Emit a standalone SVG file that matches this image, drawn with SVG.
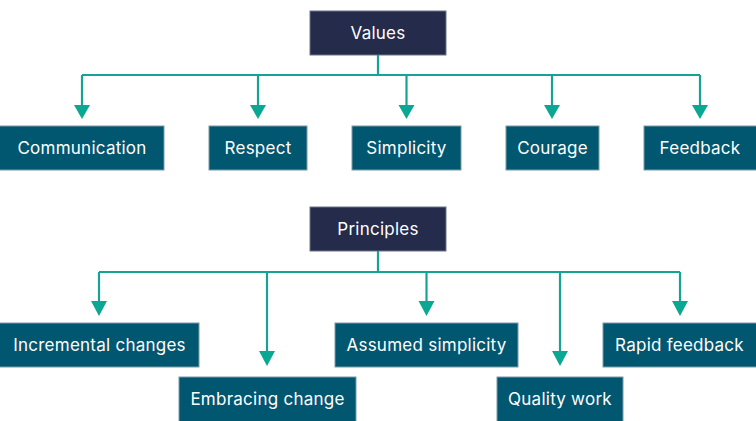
<svg xmlns="http://www.w3.org/2000/svg" width="756" height="421" viewBox="0 0 756 421">
<style>
.root rect{fill:#242b4b;stroke:#6d7488;stroke-width:1}
.leaf rect{fill:#015670;stroke:#7d9aa6;stroke-width:1}
text{font-family:Inter,"Open Sans","Liberation Sans",sans-serif;font-size:17px;letter-spacing:0.25px;fill:#ffffff;text-anchor:middle;dominant-baseline:central}
.conn path{fill:none;stroke:#17a394;stroke-width:2.2}
.heads path{fill:#0aa892}
</style>
<rect width="756" height="421" fill="#ffffff"/>
<g class="conn">
<path d="M378,55 V75 M82,75 H700"/>
<path d="M82,75 V106"/>
<path d="M258,75 V106"/>
<path d="M406.5,75 V106"/>
<path d="M552,75 V106"/>
<path d="M700,75 V106"/>
<path d="M378,251 V272 M99,272 H680"/>
<path d="M99,272 V302"/>
<path d="M267,272 V352"/>
<path d="M426.5,272 V302"/>
<path d="M560,272 V352"/>
<path d="M680,272 V302"/>
</g>
<g class="heads">
<path d="M74,105 L90,105 L82,119 Z"/>
<path d="M250,105 L266,105 L258,119 Z"/>
<path d="M398.5,105 L414.5,105 L406.5,119 Z"/>
<path d="M544,105 L560,105 L552,119 Z"/>
<path d="M692,105 L708,105 L700,119 Z"/>
<path d="M91,301 L107,301 L99,316 Z"/>
<path d="M259,351 L275,351 L267,366 Z"/>
<path d="M418.5,301 L434.5,301 L426.5,316 Z"/>
<path d="M552,351 L568,351 L560,366 Z"/>
<path d="M672,301 L688,301 L680,316 Z"/>
</g>
<g id="values" class="root"><rect x="310" y="11" width="136" height="44"/><text x="378" y="33">Values</text></g>
<g id="communication" class="leaf"><rect x="-1" y="126" width="165" height="44"/><text x="82" y="148">Communication</text></g>
<g id="respect" class="leaf"><rect x="209" y="126" width="98" height="44"/><text x="258" y="148">Respect</text></g>
<g id="simplicity" class="leaf"><rect x="352" y="126" width="109" height="44"/><text x="406.5" y="148">Simplicity</text></g>
<g id="courage" class="leaf"><rect x="506" y="126" width="93" height="44"/><text x="552.5" y="148">Courage</text></g>
<g id="feedback" class="leaf"><rect x="644" y="126" width="113" height="44"/><text x="700" y="148">Feedback</text></g>
<g id="principles" class="root"><rect x="310" y="207" width="136" height="44"/><text x="378" y="229">Principles</text></g>
<g id="incremental" class="leaf"><rect x="-1" y="323" width="200" height="44"/><text x="99.5" y="345">Incremental changes</text></g>
<g id="embracing" class="leaf"><rect x="179" y="377" width="177" height="45"/><text x="267.5" y="399">Embracing change</text></g>
<g id="assumed" class="leaf"><rect x="335" y="323" width="183" height="44"/><text x="426.5" y="345">Assumed simplicity</text></g>
<g id="quality" class="leaf"><rect x="497" y="377" width="126" height="45"/><text x="560" y="399">Quality work</text></g>
<g id="rapid" class="leaf"><rect x="603" y="323" width="154" height="44"/><text x="679.5" y="345">Rapid feedback</text></g>
</svg>
